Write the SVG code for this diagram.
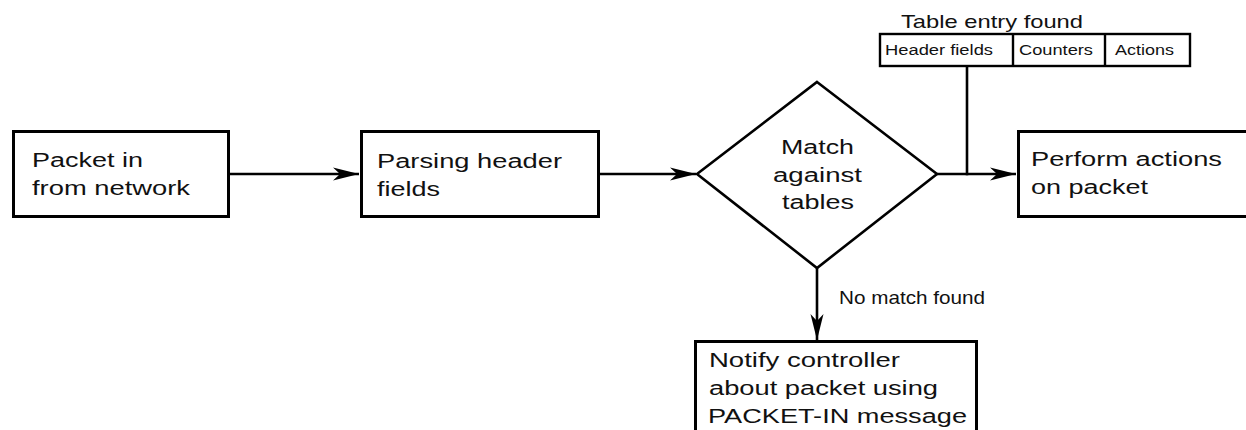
<svg xmlns="http://www.w3.org/2000/svg" width="1246" height="430" viewBox="0 0 1246 430">
  <style>
    .box { fill: #ffffff; stroke: #000000; stroke-width: 3; }
    .dia { fill: #ffffff; stroke: #000000; stroke-width: 2.6; stroke-linejoin: miter; }
    .tbl { fill: #ffffff; stroke: #000000; stroke-width: 2.4; }
    .wire { fill: none; stroke: #000000; stroke-width: 2.6; }
    .t { font-family: "Liberation Sans", Arial, sans-serif; font-size: 20px; fill: #111111; }
    .tm { font-family: "Liberation Sans", Arial, sans-serif; font-size: 18.5px; fill: #111111; }
    .ts { font-family: "Liberation Sans", Arial, sans-serif; font-size: 15.5px; fill: #111111; }
  </style>
  <defs>
    <marker id="head" markerUnits="userSpaceOnUse" markerWidth="28" markerHeight="16" viewBox="0 0 28 16" refX="27" refY="8" orient="auto">
      <path d="M27,8 L1,1.5 L8,8 L1,14.5 Z" fill="#000000"/>
    </marker>
  </defs>
  <rect width="1246" height="430" fill="#ffffff"/>

  <!-- connectors -->
  <g id="connectors">
    <line class="wire" x1="230" y1="174" x2="359" y2="174" marker-end="url(#head)"/>
    <line class="wire" x1="600" y1="174" x2="696" y2="174" marker-end="url(#head)"/>
    <line class="wire" x1="937" y1="174" x2="1016" y2="174" marker-end="url(#head)"/>
    <line class="wire" x1="967" y1="66" x2="967" y2="175.3"/>
    <line class="wire" x1="817" y1="268" x2="817" y2="340" marker-end="url(#head)"/>
    <text class="tm" x="839" y="304" textLength="146" lengthAdjust="spacingAndGlyphs">No match found</text>
  </g>

  <!-- start: packet arrives -->
  <g id="packet-in">
    <rect class="box" x="13.5" y="131.5" width="215" height="85"/>
    <text class="t" x="32" y="167" textLength="111" lengthAdjust="spacingAndGlyphs">Packet in</text>
    <text class="t" x="32" y="195" textLength="158" lengthAdjust="spacingAndGlyphs">from network</text>
  </g>

  <!-- header parsing -->
  <g id="parse">
    <rect class="box" x="361.5" y="131.5" width="237" height="85"/>
    <text class="t" x="377" y="168" textLength="185" lengthAdjust="spacingAndGlyphs">Parsing header</text>
    <text class="t" x="377" y="196" textLength="63" lengthAdjust="spacingAndGlyphs">fields</text>
  </g>

  <!-- decision: table lookup -->
  <g id="match">
    <polygon class="dia" points="817,82 937,174 817,268 697,174"/>
    <text class="t" x="781" y="154" textLength="73" lengthAdjust="spacingAndGlyphs">Match</text>
    <text class="t" x="773" y="182" textLength="89" lengthAdjust="spacingAndGlyphs">against</text>
    <text class="t" x="782" y="209" textLength="72" lengthAdjust="spacingAndGlyphs">tables</text>
  </g>

  <!-- flow table entry -->
  <g id="table-entry">
    <text class="tm" x="901" y="28" textLength="182" lengthAdjust="spacingAndGlyphs">Table entry found</text>
    <rect class="tbl" x="880" y="34" width="310" height="32"/>
    <line class="tbl" x1="1013" y1="34" x2="1013" y2="66"/>
    <line class="tbl" x1="1105" y1="34" x2="1105" y2="66"/>
    <text class="ts" x="885" y="55" textLength="108" lengthAdjust="spacingAndGlyphs">Header fields</text>
    <text class="ts" x="1019" y="55" textLength="74" lengthAdjust="spacingAndGlyphs">Counters</text>
    <text class="ts" x="1115" y="55" textLength="59" lengthAdjust="spacingAndGlyphs">Actions</text>
  </g>

  <!-- apply actions -->
  <g id="perform">
    <rect class="box" x="1018.5" y="131.5" width="240" height="85"/>
    <text class="t" x="1031" y="166" textLength="191" lengthAdjust="spacingAndGlyphs">Perform actions</text>
    <text class="t" x="1031" y="194" textLength="117" lengthAdjust="spacingAndGlyphs">on packet</text>
  </g>

  <!-- table miss -->
  <g id="notify">
    <rect class="box" x="695.5" y="341.5" width="281" height="100"/>
    <text class="t" x="709" y="367" textLength="191" lengthAdjust="spacingAndGlyphs">Notify controller</text>
    <text class="t" x="709" y="395" textLength="229" lengthAdjust="spacingAndGlyphs">about packet using</text>
    <text class="t" x="708" y="423" textLength="259" lengthAdjust="spacingAndGlyphs">PACKET-IN message</text>
  </g>
</svg>
